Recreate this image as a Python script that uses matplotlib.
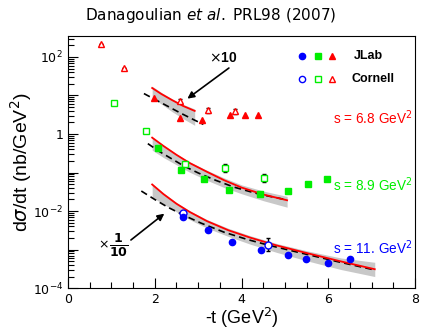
import numpy as np
import matplotlib.pyplot as plt
from matplotlib.ticker import FixedLocator, FuncFormatter, LogLocator, NullFormatter

# data (-t in GeV^2, dsigma/dt in nb/GeV^2, already scaled)
# s = 6.8 GeV^2 (x10)
jlab68_t = [1.98, 2.57, 3.08, 3.73, 4.07, 4.39]
jlab68_y = [8.6, 2.6, 2.37, 3.06, 3.2, 3.2]
corn68_t = [0.76, 1.30, 2.57, 3.22, 3.84]
corn68_y = [214, 52.6, 7.2, 4.1, 3.9]
corn68_err = [0.0, 0.0, 0.15, 0.15, 0.15]

# s = 8.9 GeV^2
jlab89_t = [2.07, 2.60, 3.13, 3.72, 4.42, 5.08, 5.53, 5.98]
jlab89_y = [0.43, 0.115, 0.066, 0.036, 0.027, 0.034, 0.051, 0.066]
corn89_t = [1.06, 1.80, 2.69, 3.61, 4.52]
corn89_y = [6.4, 1.2, 0.17, 0.13, 0.072]
corn89_err = [0.0, 0.0, 0.0, 0.25, 0.25]

# s = 11 GeV^2 (x1/10)
jlab11_t = [2.64, 3.22, 3.77, 4.44, 5.08, 5.49, 5.99, 6.51]
jlab11_y = [0.0069, 0.0032, 0.0016, 0.00095, 0.00071, 0.00056, 0.00046, 0.00056]
corn11_t = [2.64, 4.60]
corn11_y = [0.0089, 0.00135]
corn11_err = [0.1, 0.5]

# model curves (log10 values)
red68_t = [1.94, 2.15, 2.4, 2.65, 2.92]
red68_log = [1.195, 1.04, 0.88, 0.73, 0.60]
band68_hi = [1.24, 1.08, 0.91, 0.77, 0.65]
band68_lo = [0.945, 0.78, 0.58, 0.40, 0.226]
dash68_t = [1.75, 2.0, 2.3, 2.6, 2.9, 3.12]
dash68_log = [1.05, 0.90, 0.72, 0.54, 0.37, 0.25]

red89_t = [1.94, 2.2, 2.5, 2.8, 3.2, 3.6, 4.0, 4.5, 5.05]
red89_log = [-0.094, -0.31, -0.54, -0.75, -0.98, -1.20, -1.39, -1.57, -1.72]
band89_hi = [-0.08, -0.29, -0.52, -0.72, -0.94, -1.14, -1.32, -1.48, -1.62]
band89_lo = [-0.42, -0.61, -0.80, -0.99, -1.20, -1.39, -1.55, -1.73, -1.90]
dash89_t = [1.84, 2.1, 2.4, 2.67, 3.0, 3.4, 3.83, 4.4, 5.0]
dash89_log = [-0.25, -0.45, -0.65, -0.83, -1.01, -1.20, -1.38, -1.56, -1.70]

red11_t = [1.94, 2.2, 2.5, 2.8, 3.2, 3.7, 4.2, 4.8, 5.5, 6.3, 7.07]
red11_log = [-1.31, -1.56, -1.81, -2.02, -2.26, -2.50, -2.69, -2.89, -3.09, -3.31, -3.51]
band11_hi = [-1.29, -1.53, -1.78, -1.99, -2.22, -2.45, -2.64, -2.84, -3.03, -3.22, -3.33]
band11_lo = [-1.64, -1.82, -2.02, -2.22, -2.44, -2.66, -2.86, -3.07, -3.29, -3.52, -3.70]
dash11_t = [1.69, 2.0, 2.3, 2.67, 3.06, 3.6, 4.14, 4.6, 5.3, 6.2, 7.07]
dash11_log = [-1.48, -1.70, -1.90, -2.11, -2.31, -2.55, -2.74, -2.88, -3.07, -3.31, -3.53]

RED, GREEN, BLUE = '#ff0000', '#00ee00', '#0000ff'

fig = plt.figure(figsize=(4.21, 3.35), dpi=100)
ax = fig.add_axes([0.1615, 0.140, 0.8245, 0.7525])
ax.set_yscale('log')
ax.set_xlim(0, 8)
ax.set_ylim(1e-4, 3.5e2)

curves = [(red68_t, red68_log, dash68_t, dash68_log, band68_lo, band68_hi),
          (red89_t, red89_log, dash89_t, dash89_log, band89_lo, band89_hi),
          (red11_t, red11_log, dash11_t, dash11_log, band11_lo, band11_hi)]
for rt, rl, dt, dl, lo, hi in curves:
    ax.fill_between(rt, 10**np.array(lo), 10**np.array(hi), color='#c8c8c8', lw=0, zorder=1)
    ax.plot(dt, 10**np.array(dl), color='k', ls=(0, (4, 2.5)), lw=1.2, zorder=2)
    ax.plot(rt, 10**np.array(rl), color=RED, lw=1.3, zorder=3)

sets = [(jlab68_t, jlab68_y, corn68_t, corn68_y, corn68_err, RED, '^'),
        (jlab89_t, jlab89_y, corn89_t, corn89_y, corn89_err, GREEN, 's'),
        (jlab11_t, jlab11_y, corn11_t, corn11_y, corn11_err, BLUE, 'o')]
for jt, jy, ct, cy, ce, col, m in sets:
    cy = np.array(cy)
    ce = np.array(ce)
    yerr = [cy - cy / (1 + ce), cy * ce]
    ax.errorbar(ct, cy, yerr=yerr, fmt='none', ecolor='k', elinewidth=1.0, capsize=1.5, zorder=4)
    ax.plot(ct, cy, ls='none', marker=m, ms=5, mfc='white', mec=col, mew=1.0, zorder=5)
    ax.plot(jt, jy, ls='none', marker=m, ms=4.5, mfc=col, mec=col, zorder=5)

# legend drawn by hand
lx = [5.4, 5.76, 6.08]
for x, col, m in zip(lx, [BLUE, GREEN, RED], ['o', 's', '^']):
    ax.plot(x, 10**(2 - (56 - 56.7) / 38.5), marker=m, ms=4.5, mfc=col, mec=col, ls='none')
    ax.plot(x, 10**(2 - (79 - 56.7) / 38.5), marker=m, ms=4.5, mfc='white', mec=col, ls='none')
ax.text(6.58, 10**(2 - (56 - 56.7) / 38.5), 'JLab', fontsize=9, fontweight='bold', va='center', family='Liberation Sans')
ax.text(6.54, 10**(2 - (79 - 56.7) / 38.5), 'Cornell', fontsize=9, fontweight='bold', va='center', family='Liberation Sans')

ax.text(6.1, 2.6, 's = 6.8 GeV$^2$', color=RED, fontsize=9.8, va='center', family='Liberation Sans')
ax.text(6.1, 0.049, 's = 8.9 GeV$^2$', color=GREEN, fontsize=9.8, va='center', family='Liberation Sans')
ax.text(6.1, 0.0011, 's = 11. GeV$^2$', color=BLUE, fontsize=9.8, va='center', family='Liberation Sans')

ax.annotate('', xy=(2.7, 7.5), xytext=(3.76, 57),
            arrowprops=dict(arrowstyle='-|>', color='k', lw=1.2, mutation_scale=10))
ax.text(3.58, 95, r'$\times$10', fontsize=10, fontweight='bold', ha='center', va='center', family='Liberation Sans')
ax.annotate('', xy=(2.27, 0.0095), xytext=(1.40, 0.0016),
            arrowprops=dict(arrowstyle='-|>', color='k', lw=1.2, mutation_scale=10))
ax.text(0.95, 0.0013, r'$\times$', fontsize=9, ha='right', va='center')
ax.text(1.16, 0.0013, r'$\mathbf{\frac{1}{10}}$', fontsize=13, ha='center', va='center')

ax.yaxis.set_major_locator(FixedLocator([10.0**k for k in range(-4, 3)]))
ax.yaxis.set_minor_locator(LogLocator(base=10, subs=np.arange(2, 10), numticks=20))
labels = {-4: '$10^{-4}$', -2: '$10^{-2}$', 0: '1', 2: '$10^{2}$'}
ax.yaxis.set_major_formatter(FuncFormatter(lambda v, p: labels.get(int(round(np.log10(v))), '')))
ax.yaxis.set_minor_formatter(NullFormatter())
ax.set_xticks([0, 2, 4, 6, 8])
ax.set_xticks(np.arange(0, 8.01, 0.5), minor=True)
ax.tick_params(which='both', direction='in', top=False, right=False, labelsize=9, width=0.8)
ax.tick_params(which='major', length=7)
ax.tick_params(which='minor', length=4)
for sp in ax.spines.values():
    sp.set_linewidth(0.8)

ax.set_xlabel('-t (GeV$^2$)', fontsize=13, family='Liberation Sans')
ax.xaxis.set_label_coords(0.5, -0.072)
ax.set_ylabel(r'd$\sigma$/dt (nb/GeV$^2$)', fontsize=14, family='Liberation Sans')
ax.yaxis.set_label_coords(-0.098, 0.5)
fig.text(0.5, 0.955, r'Danagoulian $\it{et\ al.}$ PRL98 (2007)', ha='center', va='center', fontsize=11)

fig.savefig('out.png', dpi=100)
